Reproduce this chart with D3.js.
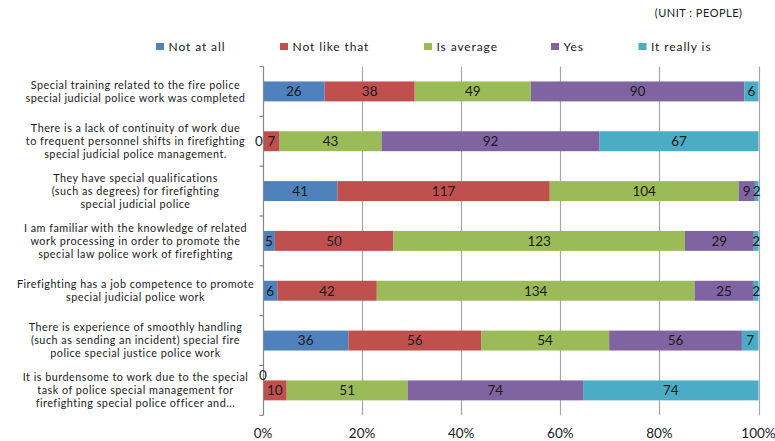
<!DOCTYPE html>
<html>
<head>
<meta charset="utf-8">
<script src="https://cdn.jsdelivr.net/npm/d3@7"></script>
<style>
  html, body { margin: 0; padding: 0; background: #fff; }
  svg { display: block; font-family: Lato, "Open Sans", sans-serif; }
</style>
</head>
<body>
<svg id="chart" width="775" height="441"></svg>
<script>
// Survey items (each split into the lines shown beside the bars)
const categories = [
  ["Special training related to the fire police", "special judicial police work was completed"],
  ["There is a lack of continuity of work due", "to frequent personnel shifts in firefighting", "special judicial police management."],
  ["They have special qualifications", "(such as degrees) for firefighting", "special judicial police"],
  ["I am familiar with the knowledge of related", "work processing in order to promote the", "special law police work of firefighting"],
  ["Firefighting has a job competence to promote", "special judicial police work"],
  ["There is experience of smoothly handling", "(such as sending an incident) special fire", "police special justice police work"],
  ["It is burdensome to work due to the special", "task of police special management for", "firefighting special police officer and..."]
];

// Response options (legend order = stacking order)
const seriesNames = ["Not at all", "Not like that", "Is average", "Yes", "It really is"];
const seriesColors = ["#4F81BD", "#C0504D", "#9BBB59", "#8064A2", "#4BACC6"];

// Number of respondents per answer, one array per response option
const notAtAll   = [26, 0, 41, 5, 6, 36, 0];
const notLike    = [38, 7, 117, 50, 42, 56, 10];
const average    = [49, 43, 104, 123, 134, 54, 51];
const yes        = [90, 92, 9, 29, 25, 56, 74];
const reallyIs   = [6, 67, 2, 2, 2, 7, 74];

const xTicks = [0, 0.2, 0.4, 0.6, 0.8, 1];
const unitText = "(UNIT : PEOPLE)";

const seriesValues = [notAtAll, notLike, average, yes, reallyIs];

const svg = d3.select("#chart");
const plot = { left: 263, right: 758.5, top: 66.5, bottom: 415.3 };

const x = d3.scaleLinear().domain([0, 1]).range([plot.left, plot.right]);
const y = d3.scaleBand()
  .domain(d3.range(categories.length))
  .range([plot.top, plot.bottom])
  .paddingInner(0.6)
  .paddingOuter(0.3);

// Row table for the 100% stack
const rows = categories.map((c, i) => {
  const r = { index: i };
  seriesNames.forEach((s, k) => { r[s] = seriesValues[k][i]; });
  return r;
});
const stack = d3.stack().keys(seriesNames).offset(d3.stackOffsetExpand);
const layers = stack(rows);

// Vertical gridlines
svg.append("g")
  .selectAll("line")
  .data(xTicks.slice(1))
  .join("line")
  .attr("x1", d => Math.round(x(d)) + 0.5)
  .attr("x2", d => Math.round(x(d)) + 0.5)
  .attr("y1", plot.top)
  .attr("y2", plot.bottom)
  .attr("stroke", "#A6A6A6")
  .attr("stroke-width", 1.2);

// Stacked bars
const layerG = svg.append("g")
  .selectAll("g")
  .data(layers)
  .join("g")
  .attr("fill", (d, k) => seriesColors[k]);

layerG.selectAll("rect")
  .data(d => d)
  .join("rect")
  .attr("x", d => x(d[0]))
  .attr("width", d => Math.max(0, x(d[1]) - x(d[0])))
  .attr("y", (d, i) => y(i))
  .attr("height", y.bandwidth());

// Left axis with tick marks between categories
const axisX = Math.round(plot.left) + 0.5;
const axisG = svg.append("g").attr("stroke", "#868686").attr("stroke-width", 1.2);
axisG.append("line")
  .attr("x1", axisX).attr("x2", axisX)
  .attr("y1", plot.top).attr("y2", plot.bottom);
const step = y.step();
axisG.selectAll("line.tick")
  .data(d3.range(categories.length + 1))
  .join("line")
  .attr("class", "tick")
  .attr("x1", axisX - 4).attr("x2", axisX)
  .attr("y1", i => plot.top + i * step)
  .attr("y2", i => plot.top + i * step);

// Category labels
const catG = svg.append("g")
  .attr("font-size", 10.8)
  .attr("letter-spacing", 0.5)
  .attr("fill", "#1a1a1a")
  .attr("text-anchor", "middle");
categories.forEach((lines, i) => {
  const cy = y(i) + y.bandwidth() / 2;
  const lh = 13;
  lines.forEach((ln, j) => {
    catG.append("text")
      .attr("x", 135.5)
      .attr("y", cy + (j - (lines.length - 1) / 2) * lh)
      .attr("dy", "0.35em")
      .text(ln);
  });
});

// Data labels
const labelG = svg.append("g")
  .attr("font-size", 13.5)
  .attr("fill", "#1a1a1a")
  .attr("text-anchor", "middle");
layers.forEach((layer, k) => {
  layer.forEach((d, i) => {
    const v = seriesValues[k][i];
    const cy = y(i) + y.bandwidth() / 2;
    let lx = (x(d[0]) + x(d[1])) / 2;
    let ly = cy;
    if (v === 0) {
      // Zero segments: nudge the label off the neighbouring one
      const nextK = seriesValues.findIndex((s, kk) => kk > k && s[i] > 0);
      const nextW = x(layers[nextK][i][1]) - x(layers[nextK][i][0]);
      if (nextW < 20) { lx = x(d[0]) - 4; }
      else { ly = cy - 15; }
    }
    labelG.append("text")
      .attr("x", lx)
      .attr("y", ly)
      .attr("dy", "0.36em")
      .text(v);
  });
});

// Bottom tick labels
svg.append("g")
  .attr("font-size", 13.5)
  .attr("fill", "#1a1a1a")
  .attr("text-anchor", "middle")
  .selectAll("text")
  .data(xTicks)
  .join("text")
  .attr("x", d => x(d))
  .attr("y", 433)
  .attr("dy", "0.36em")
  .text(d3.format(".0%"));

// Legend
const legendX = [156, 280, 424, 551, 638.5];
const legend = svg.append("g");
seriesNames.forEach((s, k) => {
  const g = legend.append("g").attr("transform", `translate(${legendX[k]},46.5)`);
  g.append("rect").attr("x", 0).attr("y", -3.5).attr("width", 8).attr("height", 7).attr("fill", seriesColors[k]);
  g.append("text")
    .attr("x", 12.5)
    .attr("dy", "0.36em")
    .attr("font-size", 12)
    .attr("letter-spacing", 0.9)
    .attr("fill", "#1a1a1a")
    .text(s);
});

// Unit note
svg.append("text")
  .attr("x", 742.5)
  .attr("y", 13.5)
  .attr("dy", "0.36em")
  .attr("text-anchor", "end")
  .attr("font-size", 11)
  .attr("letter-spacing", 0.5)
  .attr("fill", "#1a1a1a")
  .text(unitText);
</script>
</body>
</html>
